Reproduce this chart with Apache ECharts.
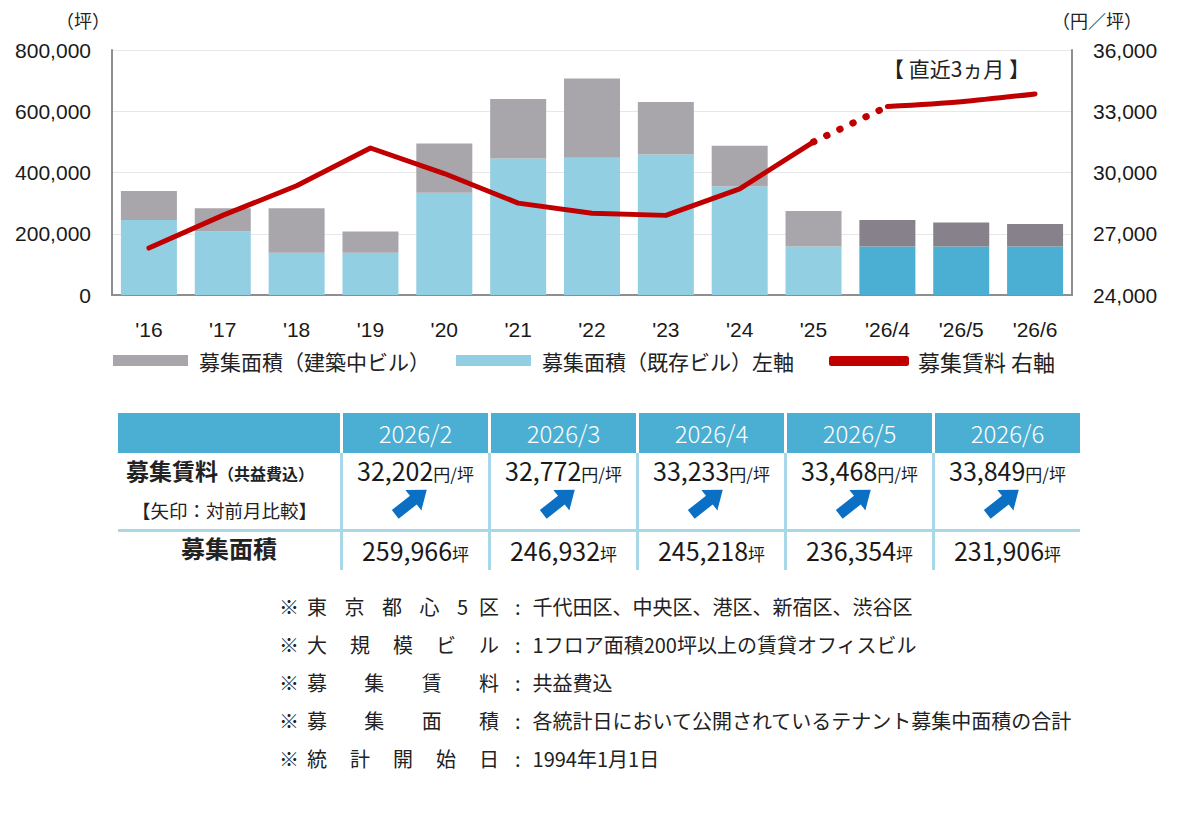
<!DOCTYPE html>
<html>
<head>
<meta charset="utf-8">
<script src="https://cdn.jsdelivr.net/npm/echarts@6/dist/echarts.min.js"></script>
<style>
  body { margin: 0; background: #fff; width: 1200px; height: 830px; position: relative; overflow: hidden;
         font-family: "Noto Sans CJK JP", sans-serif; color: #222; }
  #chart { position: absolute; left: 0; top: 0; width: 1200px; height: 400px; }
  .abs { position: absolute; }
  .hd { background: #4BAFD3; color: #fff; font-size: 24px; text-align: center; line-height: 40px; height: 40px; top: 413px; font-weight: 300; }
  .vline { background: #A8D8E8; width: 3px; top: 453px; height: 117px; }
  .hline { background: #A8D8E8; left: 118px; width: 962px; top: 529px; height: 3px; }
  .val { text-align: center; white-space: nowrap; color: #1a1a1a; }
  .num { font-size: 25px; }
  .unit { font-size: 17px; }
  .note { left: 279px; font-size: 20px; line-height: 24px; white-space: nowrap; }
  .note .lab { display: inline-block; width: 192px; text-align: justify; text-align-last: justify; margin-left: 8px; }
</style>
</head>
<body>
<div id="chart"></div>
<div id="tbl"></div>
<div id="notes"></div>
<script>
// 年 / 月
const categories = ["'16", "'17", "'18", "'19", "'20", "'21", "'22", "'23", "'24", "'25", "'26/4", "'26/5", "'26/6"];
// 募集面積（既存ビル）坪
const existing = [245000, 207000, 138000, 138000, 334000, 446000, 448000, 459000, 354000, 158000, 158000, 158000, 158000];
// 募集面積（建築中ビル）坪
const construction = [95000, 76000, 145000, 69000, 161000, 194000, 259000, 171000, 133000, 116000, 87218, 78354, 73906];
// 募集賃料 円/坪
const rent = [26300, 27900, 29350, 31200, 29950, 28500, 28000, 27900, 29200, 31500, 33233, 33468, 33849];

const leftTicks = { min: 0, max: 800000, interval: 200000 };
const rightTicks = { min: 24000, max: 36000, interval: 3000 };

// table
const months = ['2026/2', '2026/3', '2026/4', '2026/5', '2026/6'];
const monthRent = [32202, 32772, 33233, 33468, 33849];
const monthArea = [259966, 246932, 245218, 236354, 231906];

const notes = [
  ['東 京 都 心 5 区', '千代田区、中央区、港区、新宿区、渋谷区'],
  ['大 規 模 ビ ル', '1フロア面積200坪以上の賃貸オフィスビル'],
  ['募 集 賃 料', '共益費込'],
  ['募 集 面 積', '各統計日において公開されているテナント募集中面積の合計'],
  ['統 計 開 始 日', '1994年1月1日']
];

const recentStart = 10; // 直近3ヵ月
const fmt = v => v.toLocaleString('en-US');
const FONT = '"Liberation Sans", Arial, sans-serif';
const JP = '"Noto Sans CJK JP", sans-serif';

const C_GRAY = '#A8A6AA', C_BLUE = '#93CFE3', C_GRAY_D = '#86818A', C_BLUE_D = '#4BAFD3', C_RED = '#C00000';

const chart = echarts.init(document.getElementById('chart'), null, { renderer: 'svg' });

const lineBase = {
  type: 'line', yAxisIndex: 1, symbol: 'none', z: 5,
  itemStyle: { color: C_RED },
};
const axisLabel = { fontSize: 21, color: '#1a1a1a', fontFamily: FONT };
const legendText = { fontSize: 21, fontFamily: JP, color: '#222', padding: [0, 0, 0, 6] };

chart.setOption({
  animation: false,
  grid: { left: 112, right: 128, top: 50, height: 245 },
  legend: [
    { data: ['募集面積（建築中ビル）'], left: 108, top: 345, itemWidth: 75, itemHeight: 11, icon: 'rect',
      textStyle: legendText },
    { data: ['募集面積（既存ビル）左軸'], left: 451, top: 345, itemWidth: 75, itemHeight: 11, icon: 'rect',
      textStyle: legendText },
    { data: ['募集賃料 右軸'], left: 824, top: 345, itemWidth: 80, itemHeight: 10, icon: 'roundRect',
      textStyle: { ...legendText, fontSize: 22, padding: [0, 0, 0, 4] } }
  ],
  xAxis: {
    type: 'category', data: categories,
    axisTick: { show: false },
    axisLine: { lineStyle: { color: '#8E8E8E', width: 2 } },
    axisLabel: { ...axisLabel, margin: 24 }
  },
  yAxis: [
    {
      type: 'value', ...leftTicks,
      axisLine: { show: true, lineStyle: { color: '#8E8E8E', width: 2 } },
      axisLabel: { ...axisLabel, margin: 21, formatter: fmt },
      splitLine: { lineStyle: { color: '#E6E6EB', width: 1 } }
    },
    {
      type: 'value', ...rightTicks,
      axisLine: { show: true, lineStyle: { color: '#8E8E8E', width: 2 } },
      axisLabel: { ...axisLabel, margin: 21, formatter: fmt },
      splitLine: { show: false }
    }
  ],
  graphic: [
    { type: 'text', left: 56, top: 11, style: { text: '（坪）', fontSize: 18, fill: '#222', fontFamily: JP } },
    { type: 'text', left: 1052, top: 11, style: { text: '（円／坪）', fontSize: 18, fill: '#222', fontFamily: JP } },
    { type: 'text', left: 883, top: 57, style: { text: '【 直近3ヵ月 】', fontSize: 21, fill: '#222', fontFamily: JP } }
  ],
  series: [
    {
      name: '募集面積（既存ビル）左軸', type: 'bar', stack: 'area', barWidth: 56,
      itemStyle: { color: C_BLUE },
      data: existing.map((v, i) => i >= recentStart ? { value: v, itemStyle: { color: C_BLUE_D } } : v)
    },
    {
      name: '募集面積（建築中ビル）', type: 'bar', stack: 'area', barWidth: 56,
      itemStyle: { color: C_GRAY },
      data: construction.map((v, i) => i >= recentStart ? { value: v, itemStyle: { color: C_GRAY_D } } : v)
    },
    {
      ...lineBase, name: '募集賃料 右軸',
      lineStyle: { color: C_RED, width: 5, cap: 'round', join: 'round' },
      data: rent.map((v, i) => i < recentStart ? v : '-')
    },
    {
      ...lineBase, name: '_dotted',
      lineStyle: { color: C_RED, width: 7, type: [0.5, 14], cap: 'round' },
      data: rent.map((v, i) => i === recentStart - 1 || i === recentStart ? v : '-')
    },
    {
      ...lineBase, name: '_recent', smooth: 0.3,
      lineStyle: { color: C_RED, width: 5, cap: 'round', join: 'round' },
      data: rent.map((v, i) => i >= recentStart ? v : '-')
    }
  ]
});

// ---- table under the chart ----
const tbl = document.getElementById('tbl');
const colLeft = [343, 491, 639, 787, 935];
const colW = 145;
let html = '<div class="abs hd" style="left:118px;width:222px"></div>';
months.forEach((m, i) => {
  const x = colLeft[i];
  const cx = x + colW / 2;
  html += `<div class="abs hd" style="left:${x}px;width:${colW}px">${m}</div>`;
  html += `<div class="abs vline" style="left:${x - 3}px"></div>`;
  html += `<div class="abs val" style="left:${x}px;width:${colW}px;top:453px;line-height:34px">` +
          `<span class="num">${fmt(monthRent[i])}</span><span class="unit">円/坪</span></div>`;
  // 前月比 arrow (up)
  html += `<svg class="abs" style="left:${cx - 27}px;top:482px" width="44" height="40" viewBox="-22 -20 44 40">` +
          `<path d="M-20 -5.5 L3 -5.5 L3 -13 L20 0 L3 13 L3 5.5 L-20 5.5 Z" fill="#0B70C4" transform="rotate(-38)"/></svg>`;
  html += `<div class="abs val" style="left:${x}px;width:${colW}px;top:532px;line-height:36px">` +
          `<span class="num">${fmt(monthArea[i])}</span><span class="unit">坪</span></div>`;
});
html += '<div class="abs hline"></div>';
html += '<div class="abs" style="left:126px;top:454px;line-height:32px;font-weight:bold;white-space:nowrap">' +
        '<span style="font-size:23px">募集賃料</span><span style="font-size:16px">（共益費込）</span></div>';
html += '<div class="abs" style="left:132px;top:496px;line-height:28px;font-size:18.5px;white-space:nowrap">【矢印：対前月比較】</div>';
html += '<div class="abs" style="left:118px;width:222px;top:531px;line-height:34px;font-size:24px;font-weight:bold;text-align:center">募集面積</div>';
tbl.innerHTML = html;

// ---- notes ----
const nt = document.getElementById('notes');
nt.innerHTML = notes.map((n, i) =>
  `<div class="abs note" style="top:${595 + i * 38}px">※<span class="lab">${n[0]}</span>` +
  `<span style="margin-left:16px">:</span><span style="margin-left:12px">${n[1]}</span></div>`
).join('');
</script>
</body>
</html>
